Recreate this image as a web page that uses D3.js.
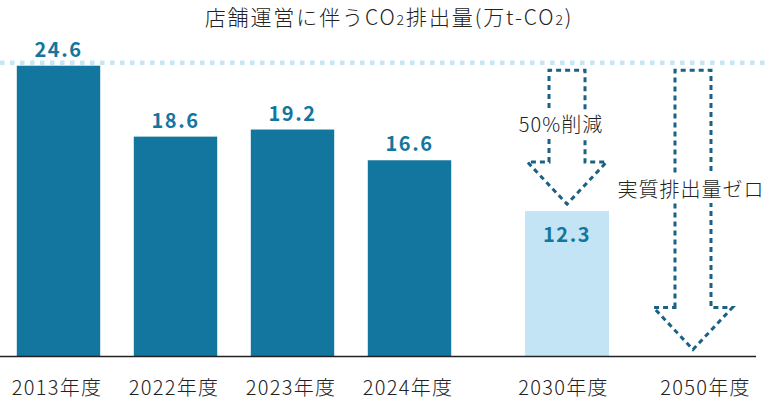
<!DOCTYPE html>
<html>
<head>
<meta charset="utf-8">
<script src="https://cdn.jsdelivr.net/npm/d3@7"></script>
<style>
  html, body { margin: 0; padding: 0; background: #fff; }
  svg { display: block; font-family: "Noto Sans CJK JP", "Noto Sans", sans-serif; }
</style>
</head>
<body>
<svg id="chart" width="769" height="403"></svg>
<script>
// ---- data ----
const actualYears = ["2013年度", "2022年度", "2023年度", "2024年度"];
const actualValues = [24.6, 18.6, 19.2, 16.6];
const targetYears = ["2030年度", "2050年度"];
const targetValues = [12.3, 0];
const targetNotes = ["50%削減", "実質排出量ゼロ"];
const baseValue = 24.6;
const titleText = ["店舗運営に伴うCO", "2", "排出量(万t-CO", "2", ")"];

// ---- layout ----
const W = 769, H = 403;
const svg = d3.select("#chart");
const colorBar = "#13769e";
const colorTarget = "#c3e4f4";
const colorArrow = "#1a6185";
const colorRef = "#c6e6f6";
const lightWeight = 300;

const y = d3.scaleLinear().domain([0, baseValue]).range([356.5, 65.7]);
const xA = d3.scaleBand().domain(actualYears).range([0, 468]).paddingInner(0.287).paddingOuter(0.1435);
const xT = d3.scaleBand().domain(targetYears).range([504, 756]).paddingInner(0.333).paddingOuter(0.1667);

// title
const title = svg.append("text")
  .attr("x", 389).attr("y", 25)
  .attr("text-anchor", "middle")
  .attr("font-size", 21).attr("font-weight", lightWeight)
  .attr("letter-spacing", 1.9).attr("fill", "#222");
titleText.forEach((t, i) => {
  const sub = i === 1 || i === 3;
  title.append("tspan")
    .attr("font-size", sub ? 14 : 21)
    .text(t);
});

// reference dotted line at 2013 level
svg.append("line")
  .attr("x1", 0).attr("x2", W)
  .attr("y1", y(baseValue) - 3).attr("y2", y(baseValue) - 3)
  .attr("stroke", colorRef).attr("stroke-width", 4.5)
  .attr("stroke-dasharray", "4.5,5.5");

// actual bars
svg.selectAll("rect.actual").data(actualValues).join("rect")
  .attr("class", "actual")
  .attr("x", (d, i) => xA(actualYears[i]))
  .attr("width", xA.bandwidth())
  .attr("y", d => y(d))
  .attr("height", d => y(0) - y(d))
  .attr("fill", colorBar);

svg.selectAll("text.vlab").data(actualValues).join("text")
  .attr("class", "vlab")
  .attr("x", (d, i) => xA(actualYears[i]) + xA.bandwidth() / 2)
  .attr("y", d => y(d) - 9)
  .attr("text-anchor", "middle")
  .attr("font-size", 20).attr("font-weight", "bold")
  .attr("letter-spacing", 1.5)
  .attr("fill", colorBar)
  .text(d => d.toFixed(1));

// target 2030 bar (non-zero targets)
svg.selectAll("rect.target").data(targetValues.filter(v => v > 0)).join("rect")
  .attr("class", "target")
  .attr("x", (d, i) => xT(targetYears[i]))
  .attr("width", xT.bandwidth())
  .attr("y", d => y(d))
  .attr("height", d => y(0) - y(d))
  .attr("fill", colorTarget);

svg.selectAll("text.tlab").data(targetValues.filter(v => v > 0)).join("text")
  .attr("class", "tlab")
  .attr("x", (d, i) => xT(targetYears[i]) + xT.bandwidth() / 2)
  .attr("y", d => y(d) + 31)
  .attr("text-anchor", "middle")
  .attr("font-size", 20).attr("font-weight", "bold")
  .attr("letter-spacing", 1.5)
  .attr("fill", colorBar)
  .text(d => d.toFixed(1));

// dashed reduction arrows
const shaftHalf = 18, headHalf = 39.5, headH = 42;
targetValues.forEach((v, i) => {
  const cx = xT(targetYears[i]) + xT.bandwidth() / 2;
  const top = y(baseValue) + 4.5;
  const tip = y(v) - 7;
  const headY = tip - headH;
  const p = d3.path();
  p.moveTo(cx - shaftHalf, headY);
  p.lineTo(cx - shaftHalf, top);
  p.lineTo(cx + shaftHalf, top);
  p.lineTo(cx + shaftHalf, headY);
  p.lineTo(cx + headHalf, headY);
  p.lineTo(cx, tip);
  p.lineTo(cx - headHalf, headY);
  p.closePath();
  svg.append("path")
    .attr("d", p.toString())
    .attr("fill", "none")
    .attr("stroke", colorArrow)
    .attr("stroke-width", 3)
    .attr("stroke-dasharray", "5,4");
});

// notes with white backdrop
const noteY = [132, 197];
const noteDx = [-6, -2];
targetNotes.forEach((n, i) => {
  const cx = xT(targetYears[i]) + xT.bandwidth() / 2 + noteDx[i];
  const g = svg.append("g");
  const t = g.append("text")
    .attr("x", cx).attr("y", noteY[i])
    .attr("text-anchor", "middle")
    .attr("font-size", 20).attr("font-weight", lightWeight)
    .attr("letter-spacing", 1)
    .attr("fill", "#222")
    .text(n);
  const bb = t.node().getBBox();
  g.insert("rect", "text")
    .attr("x", bb.x - 3).attr("y", bb.y + 1)
    .attr("width", bb.width + 6).attr("height", bb.height - 1)
    .attr("fill", "#fff");
});

// baseline axis
svg.append("line")
  .attr("x1", 0).attr("x2", xT.range()[1])
  .attr("y1", y(0)).attr("y2", y(0))
  .attr("stroke", "#222").attr("stroke-width", 1.5);

// category labels
const labelDx = [0, 0, 0, 0, -2, 14];
const allCats = actualYears.map(c => ({c, x: xA(c) + xA.bandwidth() / 2}))
  .concat(targetYears.map(c => ({c, x: xT(c) + xT.bandwidth() / 2})));
svg.selectAll("text.cat").data(allCats).join("text")
  .attr("class", "cat")
  .attr("x", (d, i) => d.x + labelDx[i] - 1.5)
  .attr("y", 395)
  .attr("text-anchor", "middle")
  .attr("font-size", 20).attr("font-weight", lightWeight)
  .attr("letter-spacing", 1.3)
  .attr("fill", "#222")
  .text(d => d.c);
</script>
</body>
</html>
